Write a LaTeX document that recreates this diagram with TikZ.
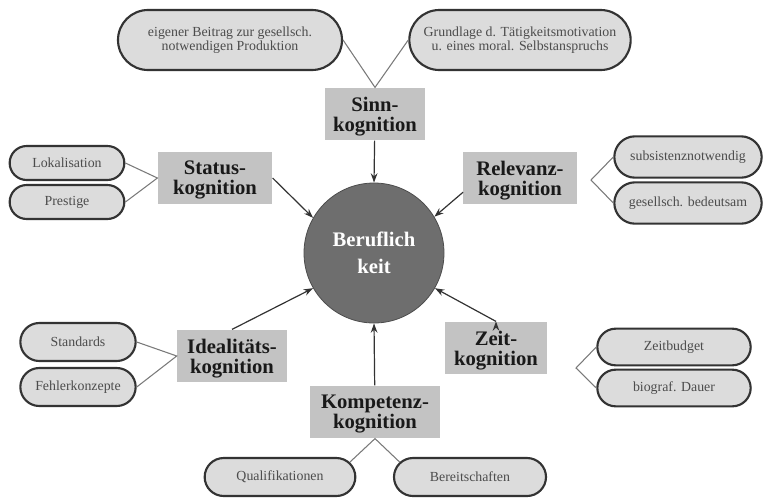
\documentclass[tikz,border=0pt]{standalone}
\usepackage{fontspec}
\setmainfont{Liberation Serif}
\usepackage{tikz}
\usetikzlibrary{positioning, arrows.meta, shapes.geometric, shapes.misc, fit}
\definecolor{boxgray}{HTML}{C3C3C3}
\definecolor{pillgray}{HTML}{DCDCDC}
\definecolor{coregray}{HTML}{6E6E6E}
\definecolor{linegray}{HTML}{7A7A7A}
\tikzset{
  kog/.style={fill=boxgray, align=center, inner sep=1pt, minimum height=39.5pt,
    text depth=0pt, text=black!90, font=\bfseries\fontsize{15.5}{15}\selectfont},
  pill/.style={rounded rectangle, draw=black!80, line width=1.6pt, fill=pillgray,
    align=center, inner sep=1pt, text=black!70, font=\fontsize{10.4}{10.5}\selectfont},
  brace/.style={draw=linegray, line width=0.8pt},
  into/.style={draw=black!80, line width=0.9pt, -{Stealth[length=7pt,width=5pt]}}
}
\begin{document}
\begin{tikzpicture}[x=0.75pt, y=-0.75pt]
\useasboundingbox (0,0) rectangle (763,497);
\node (beruf) [circle, fill=coregray, draw=black!70, line width=0.6pt, minimum size=105pt,
  align=center, text=white, font=\bfseries\fontsize{15.5}{20}\selectfont] at (374,253) {Beruflich\\keit};
\node (sinn) [kog, minimum width=75pt] at (375,114) {Sinn-\\kognition};
\node (status) [kog, minimum width=86pt] at (215,178) {Status-\\kognition};
\node (relevanz) [kog, minimum width=85pt] at (520,178) {Relevanz-\\kognition};
\node (ideal) [kog, minimum width=82.5pt] at (232,356) {Idealitäts-\\kognition};
\node (zeit) [kog, minimum width=76pt] at (496,348) {Zeit-\\kognition};
\node (kompetenz) [kog, minimum width=97pt] at (375,412) {Kompetenz-\\kognition};
\node (beitrag) [pill, minimum width=170pt, minimum height=45pt] at (230,40) {eigener Beitrag zur gesellsch.\\notwendigen Produktion};
\node (grundlage) [pill, minimum width=168pt, minimum height=45pt] at (520,40) {Grundlage d. Tätigkeitsmotivation\\u. eines moral. Selbstanspruchs};
\node (lokal) [pill, minimum width=88pt, minimum height=25.5pt] at (67,163) {Lokalisation};
\node (prestige) [pill, minimum width=88pt, minimum height=25.5pt] at (67,202) {Prestige};
\node (subsist) [pill, minimum width=112.5pt, minimum height=31pt] at (688,157) {subsistenznotwendig};
\node (bedeut) [pill, minimum width=112.5pt, minimum height=31pt] at (688,203) {gesellsch. bedeutsam};
\node (standards) [pill, minimum width=88.5pt, minimum height=28.5pt] at (78,342) {Standards};
\node (fehler) [pill, minimum width=88.5pt, minimum height=28.5pt] at (78,387) {Fehlerkonzepte};
\node (budget) [pill, minimum width=117pt, minimum height=27.5pt] at (674,347) {Zeitbudget};
\node (dauer) [pill, minimum width=117pt, minimum height=27.5pt] at (674,388) {biograf. Dauer};
\node (qualif) [pill, minimum width=115pt, minimum height=28.5pt] at (280,477) {Qualifikationen};
\node (bereit) [pill, minimum width=116pt, minimum height=28.5pt] at (470,477) {Bereitschaften};
\coordinate (relvertex) at (591,180);
\coordinate (zeitvertex) at (576,368);
\draw[brace] (beitrag.east) -- (sinn.north) -- (grundlage.west);
\draw[brace] (lokal.east) -- (status.west) -- (prestige.east);
\draw[brace] (subsist.west) -- (relvertex) -- (bedeut.west);
\draw[brace] (standards.east) -- (ideal.west) -- (fehler.east);
\draw[brace] (budget.west) -- (zeitvertex) -- (dauer.west);
\draw[brace] (qualif.12) -- (kompetenz.south) -- (bereit.168);
\path[into]
(sinn) edge (beruf.north)
(status.east) edge (beruf.150)
(relevanz.194) edge (beruf.31)
(ideal.north) edge (beruf.210)
(zeit.north) edge (beruf.330)
(kompetenz) edge (beruf.south);
\end{tikzpicture}
\end{document}
